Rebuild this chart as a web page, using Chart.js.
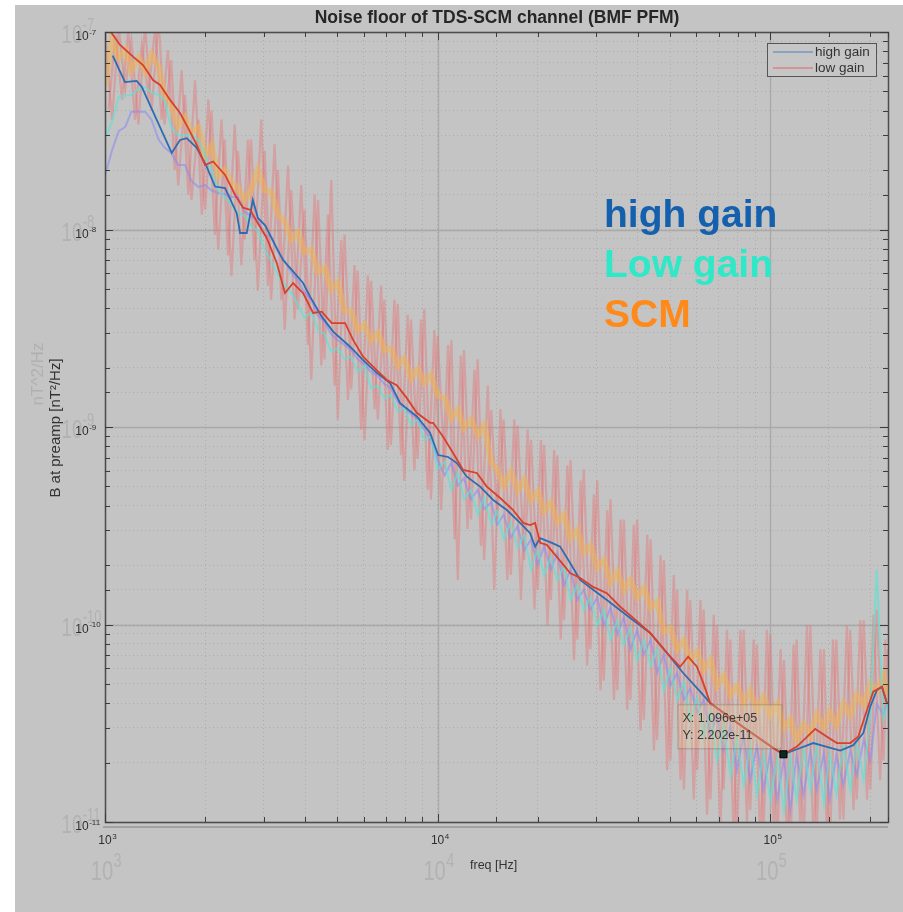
<!DOCTYPE html>
<html>
<head>
<meta charset="utf-8">
<title>Noise floor of TDS-SCM channel (BMF PFM)</title>
<script src="https://cdn.jsdelivr.net/npm/chart.js@4.4.1/dist/chart.umd.min.js"></script>
<style>
  html, body { margin: 0; padding: 0; background: #fff; }
  #plot { display: block; }
</style>
</head>
<body>
<canvas id="plot" width="903" height="912"></canvas>
<script>
// frequency grid shared by the raw spectra [Hz]
const noiseFreq = [1000,1050,1100,1150,1200,1260,1320,1380,1450,1510,1580,1660,1740,1820,1910,2000,2090,2190,2290,2400,
  2510,2630,2750,2880,3020,3160,3310,3470,3630,3800,3980,4170,4370,4570,4790,5010,5250,5500,5750,6030,
  6310,6610,6920,7240,7590,7940,8320,8710,9120,9550,10000,10500,11000,11500,12000,12600,13200,13800,14500,15100,
  15800,16600,17400,18200,19100,20000,20900,21900,22900,24000,25100,26300,27500,28800,30200,31600,33100,34700,36300,38000,
  39800,41700,43700,45700,47900,50100,52500,55000,57500,60300,63100,66100,69200,72400,75900,79400,83200,87100,91200,95500,
  100000,105000,110000,115000,120000,126000,132000,138000,145000,151000,158000,166000,174000,182000,191000,200000,209000,219000,225000];

// in-between bins of the SCM spectrum [Hz]
const spikeFreqB = [1025,1075,1125,1175,1230,1290,1350,1415,1480,1545,1620,1700,1780,1865,1955,2045,2140,2240,2345,2455,
  2570,2690,2815,2950,3090,3235,3390,3550,3715,3890,4075,4270,4470,4680,4900,5130,5375,5625,5890,6170,
  6460,6765,7080,7415,7765,8130,8515,8915,9335,9775,10250,10750,11250,11750,12300,12900,13500,14150,14800,15450,
  16200,17000,17800,18650,19550,20450,21400,22400,23450,24550,25700,26900,28150,29500,30900,32350,33900,35500,37150,38900,
  40750,42700,44700,46800,49000,51300,53750,56250,58900,61700,64600,67650,70800,74150,77650,81300,85150,89150,93350,97750,
  102500,107500,112500,117500,123000,129000,135000,141500,148000,154500,162000,170000,178000,186500,195500,204500,214000,222000];

// SCM spectrum (orange band)
const scmBand = [5.3e-8,9.3e-8,7.4e-8,8.1e-8,6.4e-8,7.4e-8,6.3e-8,7.7e-8,6.6e-8,4.8e-8,
  4.3e-8,3.35e-8,3.7e-8,3.1e-8,3.3e-8,2.37e-8,2.65e-8,1.87e-8,2.0e-8,1.74e-8,
  1.62e-8,1.41e-8,1.58e-8,2.0e-8,1.58e-8,1.55e-8,1.19e-8,1.1e-8,8.9e-9,9.7e-9,
  7.7e-9,7.9e-9,6.1e-9,6.4e-9,5.0e-9,5.4e-9,3.9e-9,3.85e-9,3.1e-9,3.3e-9,
  2.75e-9,3.0e-9,2.45e-9,2.5e-9,2.05e-9,2.22e-9,1.77e-9,1.95e-9,1.68e-9,1.83e-9,
  1.45e-9,1.4e-9,1.11e-9,1.22e-9,9.9e-10,1.09e-9,9.1e-10,1.02e-9,6.6e-10,6.1e-10,
  5.05e-10,5.9e-10,4.8e-10,5.4e-10,4.3e-10,4.7e-10,3.75e-10,4.15e-10,3.3e-10,3.6e-10,
  2.75e-10,3.0e-10,2.33e-10,2.5e-10,1.95e-10,2.12e-10,1.64e-10,1.85e-10,1.5e-10,1.68e-10,
  1.38e-10,1.53e-10,1.22e-10,1.3e-10,9.2e-11,9.6e-11,7.5e-11,8.3e-11,6.6e-11,7.3e-11,
  5.9e-11,6.6e-11,4.9e-11,5.5e-11,4.4e-11,4.9e-11,4.0e-11,4.6e-11,3.7e-11,4.3e-11,
  3.5e-11,3.95e-11,3.0e-11,3.3e-11,2.6e-11,3.1e-11,2.75e-11,3.5e-11,3.0e-11,3.6e-11,
  3.1e-11,3.95e-11,3.5e-11,4.4e-11,3.95e-11,5.0e-11,4.6e-11,5.5e-11,4.4e-11];

// SCM raw spikes (pink), on noiseFreq
const scmSpikes = [1.02e-7,3.6e-8,1.05e-7,5.1e-8,9.1e-8,3.4e-8,1.08e-7,4.0e-8,1.15e-7,3.4e-8,
  7.2e-8,1.67e-8,4.8e-8,1.41e-8,3.6e-8,1.26e-8,4.0e-8,7.9e-9,2.85e-8,5.8e-9,
  2.5e-8,8.9e-9,2.85e-8,4.9e-9,2.5e-8,4.4e-9,2.0e-8,3.1e-9,1.58e-8,3.95e-9,
  1.26e-8,1.73e-9,1.41e-8,2.2e-9,1.78e-8,1.09e-9,9.4e-9,1.55e-9,6.2e-9,8.6e-10,
  5.5e-9,1.09e-9,4.4e-9,8.1e-10,4.2e-9,5.35e-10,3.5e-9,6.9e-10,3.95e-9,4.3e-10,
  2.9e-9,6.1e-10,2.75e-9,1.68e-10,2.45e-9,3.4e-10,2.2e-9,2.12e-10,1.22e-9,3.4e-10,
  1.09e-9,1.78e-10,1.02e-9,2.12e-10,8.6e-10,1.5e-10,8.1e-10,1.33e-10,7.2e-10,1.05e-10,
  6.8e-10,8.4e-11,6.1e-10,7.5e-11,5.35e-10,5.2e-11,4.3e-10,4.65e-11,3.4e-10,4.15e-11,
  3.4e-10,3.3e-11,2.7e-10,2.6e-11,2.12e-10,2.05e-11,1.5e-10,1.46e-11,1.33e-10,1.83e-11,
  1.19e-10,1.3e-11,9.9e-11,1.46e-11,8.4e-11,8.5e-12,9.4e-11,1.15e-11,7.9e-11,9.1e-12,
  8.9e-11,8.1e-12,6.6e-11,7.2e-12,8.4e-11,7.7e-12,9.9e-11,9.1e-12,7.5e-11,7.2e-12,
  8.4e-11,1.03e-11,9.4e-11,1.3e-11,1.05e-10,1.46e-11,1.19e-10,2.05e-11,7.5e-11];

// SCM raw spikes (pink), on spikeFreqB
const scmSpikesB = [4.05e-8,9.7e-8,4.55e-8,1.02e-7,3.6e-8,8.6e-8,4.8e-8,1.05e-7,3.6e-8,8.1e-8,
  2.0e-8,6.4e-8,1.5e-8,5.7e-8,1.19e-8,4.55e-8,9.4e-9,3.6e-8,7.4e-9,3.4e-8,
  6.6e-9,2.85e-8,7.0e-9,3.6e-8,5.2e-9,2.7e-8,4.4e-9,2.1e-8,3.5e-9,1.68e-8,
  2.6e-9,1.5e-8,2.05e-9,1.19e-8,1.62e-9,8.85e-9,1.37e-9,6.6e-9,9.7e-10,5.85e-9,
  1.23e-9,5.2e-9,7.65e-10,4.4e-9,7.2e-10,3.7e-9,6.05e-10,3.5e-9,4.8e-10,3.1e-9,
  3.8e-10,2.6e-9,2.7e-10,2.3e-9,3.05e-10,1.95e-9,2.5e-10,1.62e-9,1.5e-10,1.23e-9,
  1.68e-10,1.09e-9,1.33e-10,9.7e-10,1.19e-10,8.6e-10,9.9e-11,7.65e-10,8.4e-11,6.4e-10,
  6.6e-11,5.35e-10,6.2e-11,4.55e-10,4.65e-11,3.8e-10,4.15e-11,3.4e-10,3.7e-11,3.2e-10,
  2.9e-11,2.85e-10,2.3e-11,2.24e-10,1.83e-11,1.78e-10,1.63e-11,1.5e-10,1.3e-11,1.33e-10,
  1.09e-11,1.12e-10,9.1e-12,9.4e-11,8.6e-12,9.4e-11,1.0e-11,8.4e-11,7.7e-12,9.4e-11,
  9.1e-12,7.5e-11,7.2e-12,7.9e-11,1.0e-11,9.9e-11,7.7e-12,7.5e-11,9.1e-12,8.4e-11,
  1.03e-11,9.9e-11,1.15e-11,1.05e-10,1.3e-11,1.12e-10,1.63e-11,8.4e-11];

// low gain raw spectrum (turquoise)
const lowGainNoise = [2.9e-8,3.5e-8,4.7e-8,4.75e-8,4.8e-8,5.15e-8,5.25e-8,4.95e-8,4.8e-8,4.5e-8,
  3.3e-8,3.0e-8,3.0e-8,3.0e-8,2.85e-8,2.37e-8,2.0e-8,1.58e-8,1.46e-8,1.33e-8,
  1.22e-8,1.17e-8,1.04e-8,9.8e-9,7.9e-9,6.9e-9,5.9e-9,5.2e-9,4.8e-9,4.15e-9,
  3.57e-9,3.8e-9,3.1e-9,2.95e-9,2.4e-9,2.5e-9,2.2e-9,2.28e-9,1.9e-9,2.05e-9,
  1.57e-9,1.62e-9,1.4e-9,1.45e-9,1.2e-9,1.25e-9,1.02e-9,1.09e-9,8.6e-10,9.0e-10,
  6.1e-10,6.7e-10,4.8e-10,5.9e-10,4.3e-10,4.8e-10,3.6e-10,4.4e-10,3.2e-10,3.75e-10,
  2.7e-10,3.3e-10,2.45e-10,2.85e-10,1.9e-10,2.4e-10,1.78e-10,2.2e-10,1.68e-10,1.98e-10,
  1.33e-10,1.58e-10,1.18e-10,1.37e-10,9.9e-11,1.19e-10,8.4e-11,1.05e-10,7.9e-11,9.6e-11,
  6.6e-11,8.4e-11,6.2e-11,7.5e-11,4.65e-11,6.0e-11,4.15e-11,5.1e-11,3.3e-11,4.3e-11,
  2.75e-11,3.6e-11,2.05e-11,3.1e-11,1.73e-11,2.65e-11,1.54e-11,2.45e-11,1.38e-11,2.25e-11,
  1.3e-11,2.1e-11,1.15e-11,2.17e-11,1.3e-11,2.37e-11,1.46e-11,2.45e-11,1.23e-11,2.25e-11,
  1.38e-11,2.45e-11,1.46e-11,2.52e-11,1.62e-11,3.5e-11,1.9e-10,3.3e-11,3.95e-11];

// high gain raw spectrum (violet)
const highGainNoise = [1.88e-8,2.52e-8,3.16e-8,3.3e-8,3.95e-8,3.95e-8,3.95e-8,3.6e-8,2.85e-8,2.6e-8,
  2.45e-8,2.12e-8,2.12e-8,1.76e-8,1.64e-8,1.68e-8,1.58e-8,1.53e-8,1.51e-8,1.46e-8,
  1.46e-8,1.23e-8,1.17e-8,1.12e-8,9.4e-9,9.2e-9,7.7e-9,6.9e-9,6.1e-9,5.5e-9,
  4.8e-9,4.4e-9,3.65e-9,3.4e-9,2.95e-9,2.75e-9,2.6e-9,2.45e-9,2.2e-9,2.07e-9,
  1.9e-9,1.81e-9,1.65e-9,1.57e-9,1.34e-9,1.25e-9,1.16e-9,1.09e-9,9.7e-10,8.6e-10,
  6.8e-10,5.7e-10,6.6e-10,5.05e-10,5.5e-10,4.3e-10,4.8e-10,3.85e-10,4.15e-10,3.2e-10,
  3.6e-10,2.75e-10,3.16e-10,2.37e-10,2.7e-10,2.0e-10,2.5e-10,1.9e-10,2.3e-10,1.58e-10,
  1.9e-10,1.33e-10,1.5e-10,1.19e-10,1.37e-10,9.9e-11,1.22e-10,8.9e-11,1.09e-10,7.5e-11,
  9.4e-11,7.05e-11,8.4e-11,5.7e-11,7.05e-11,4.9e-11,5.7e-11,4.15e-11,4.75e-11,3.6e-11,
  4.15e-11,2.75e-11,3.5e-11,2.3e-11,3.1e-11,1.83e-11,2.75e-11,1.63e-11,2.45e-11,1.46e-11,
  2.25e-11,1.3e-11,2.1e-11,1.15e-11,2.17e-11,1.38e-11,2.3e-11,1.46e-11,2.25e-11,1.3e-11,
  2.17e-11,1.54e-11,2.3e-11,1.73e-11,2.6e-11,2.05e-11,3.95e-11,3.5e-11,4.05e-11];

// first bin of the low gain spectrum runs the whole height
const lowGainEdgeFreq = [1000, 1000];
const lowGainEdge = [1.1e-7, 9e-12];

// smoothed curves (legend entries)
const highFreq = [1055,1148,1245,1290,1394,1587,1681,1761,1887,2022,2142,2296,2489,2547,2668,2782,2885,3030,3246,3430,
  3643,3940,4136,4485,4851,5455,5970,6563,7197,7713,8658,9494,10035,10755,11425,12240,13420,14690,16150,17700,
  18970,19640,20340,22060,23350,25030,26830,29360,32280,35390,38730,43560,48900,54740,61600,66000,81280,102100,109600,123100,
  134700,148100,162400,177700,190500,199900,209400,216700,224300];
const highGain = [7.6e-8,5.58e-8,5.65e-8,5.28e-8,3.95e-8,2.44e-8,2.84e-8,2.9e-8,2.59e-8,2.08e-8,1.65e-8,1.62e-8,1.21e-8,9.6e-9,9.6e-9,1.41e-8,1.14e-8,1.05e-8,8.35e-9,7.0e-9,
  6.24e-9,5.36e-9,4.57e-9,3.62e-9,3.04e-9,2.55e-9,2.18e-9,1.88e-9,1.67e-9,1.32e-9,1.13e-9,9.33e-10,7.21e-10,7.05e-10,6.57e-10,5.6e-10,4.99e-10,4.27e-10,3.8e-10,3.27e-10,
  2.9e-10,2.48e-10,2.74e-10,2.59e-10,2.48e-10,2.05e-10,1.68e-10,1.5e-10,1.33e-10,1.18e-10,1.05e-10,9.06e-11,7.18e-11,5.68e-11,4.57e-11,4.0e-11,3.1e-11,2.37e-11,2.202e-11,2.37e-11,
  2.51e-11,2.4e-11,2.3e-11,2.45e-11,2.82e-11,3.84e-11,4.66e-11,4.84e-11,4.0e-11];

const lowFreq = [1020,1110,1214,1301,1394,1464,1569,1681,1777,1887,1999,2113,2296,2460,2600,2729,2858,3064,3284,3477,
  3676,3940,4223,4485,4806,5271,5570,5970,6397,7035,7538,8080,8658,9494,9694,10390,11130,11930,13120,14060,
  15420,16870,18080,18970,19640,20340,21290,22830,25030,26830,29360,32280,35390,38730,43560,48900,53600,56660,60200,62880,
  66000,81280,102100,109600,120300,129000,136500,148100,158700,174000,183900,195400,204000,216700,224300];
const lowGain = [1.05e-7,8.6e-8,7.5e-8,6.8e-8,5.71e-8,5.39e-8,4.53e-8,3.89e-8,3.27e-8,2.68e-8,2.12e-8,2.21e-8,1.89e-8,1.5e-8,1.29e-8,1.26e-8,1.1e-8,9.06e-9,6.77e-9,4.77e-9,
  5.36e-9,4.77e-9,3.78e-9,3.84e-9,3.36e-9,3.36e-9,2.76e-9,2.27e-9,2.02e-9,1.73e-9,1.63e-9,1.4e-9,1.18e-9,1.05e-9,1.05e-9,8.93e-10,7.38e-10,6.06e-10,5.85e-10,4.99e-10,
  4.37e-10,3.8e-10,3.27e-10,3.19e-10,3.27e-10,2.59e-10,2.53e-10,2.2e-10,1.82e-10,1.72e-10,1.55e-10,1.44e-10,1.23e-10,1.08e-10,9.06e-11,7.18e-11,6.11e-11,6.87e-11,6.11e-11,5.06e-11,
  4.0e-11,3.1e-11,2.37e-11,2.202e-11,2.41e-11,2.7e-11,2.96e-11,2.7e-11,2.51e-11,2.51e-11,2.7e-11,3.69e-11,4.57e-11,4.84e-11,4.0e-11];

// data cursor
const tipFreq = [109600];
const tipVal = [2.202e-11];

// axes
const xTickValues = [1e3, 1e4, 1e5];
const xTickExp = ['3', '4', '5'];
const yTickValues = [1e-7, 1e-8, 1e-9, 1e-10, 1e-11];
const yTickExp = ['-7', '-8', '-9', '-10', '-11'];

const titleText = 'Noise floor of TDS-SCM channel (BMF PFM)';
const legendLabels = ['high gain', 'low gain'];
const noteLabels = ['high gain', 'Low gain', 'SCM'];
const noteColors = ['#1560ad', '#2ee8c8', '#ff8a1a'];

const FONT = '"Liberation Sans", Arial, Helvetica, sans-serif';
const pts = (xs, ys) => xs.map((x, i) => ({ x: x, y: ys[i] }));

function sciMatlab(v) {
  // 1.096e+05 style
  const [m, e] = v.toExponential(3).split('e');
  const n = parseInt(e, 10);
  return m + 'e' + (n < 0 ? '-' : '+') + String(Math.abs(n)).padStart(2, '0');
}

// "10" with a raised exponent, centred on (cx, cy); sx squeezes it horizontally
function drawPow(ctx, exp, cx, cy, size, color, sx) {
  sx = sx || 1;
  ctx.save();
  ctx.translate(cx, cy);
  ctx.scale(sx, 1);
  ctx.font = size + 'px ' + FONT;
  const w = ctx.measureText('10').width;
  ctx.fillStyle = color;
  ctx.textAlign = 'left';
  ctx.textBaseline = 'alphabetic';
  ctx.fillText('10', -w / 2, size * 0.36);
  ctx.font = Math.round(size * 0.7) + 'px ' + FONT;
  ctx.fillText(exp, w / 2 + 0.5, -size * 0.12);
  ctx.restore();
}

const paper = {
  id: 'paper',
  beforeDraw(chart) {
    const c = chart.ctx;
    c.save();
    c.fillStyle = '#ffffff';
    c.fillRect(0, 0, chart.width, chart.height);
    c.fillStyle = '#c4c4c4';
    c.fillRect(15, 5, chart.width - 15, chart.height - 5);
    c.restore();
  },
  beforeDatasetsDraw(chart) {
    const { ctx, chartArea: a, scales } = chart;
    ctx.save();
    ctx.strokeStyle = '#a9a9a9';
    ctx.lineWidth = 1.3;
    xTickValues.forEach(v => {
      const px = Math.round(scales.x.getPixelForValue(v)) + 0.5;
      ctx.beginPath(); ctx.moveTo(px, a.top); ctx.lineTo(px, a.bottom); ctx.stroke();
    });
    yTickValues.forEach(v => {
      const py = Math.round(scales.y.getPixelForValue(v)) + 0.5;
      ctx.beginPath(); ctx.moveTo(a.left, py); ctx.lineTo(a.right, py); ctx.stroke();
    });
    ctx.restore();
  },
  afterDatasetsDraw(chart) {
    // data cursor box
    const { ctx, scales } = chart;
    const mx = scales.x.getPixelForValue(tipFreq[0]);
    const my = scales.y.getPixelForValue(tipVal[0]);
    const bx = mx - 106, by = my - 50;
    ctx.save();
    ctx.fillStyle = 'rgba(226,208,160,0.3)';
    ctx.fillRect(bx, by, 104, 44);
    ctx.strokeStyle = 'rgba(110,100,80,0.4)';
    ctx.lineWidth = 1;
    ctx.strokeRect(bx + 0.5, by + 0.5, 104, 44);
    ctx.fillStyle = '#3a3a36';
    ctx.font = '12.5px ' + FONT;
    ctx.textBaseline = 'middle';
    ctx.textAlign = 'left';
    ctx.fillText('X: ' + sciMatlab(tipFreq[0]), bx + 5, by + 14);
    ctx.fillText('Y: ' + sciMatlab(tipVal[0]), bx + 5, by + 31);
    ctx.restore();
  },
  afterDraw(chart) {
    const { ctx, chartArea: a, scales } = chart;
    const xs = scales.x, ys = scales.y;
    ctx.save();

    // frame
    ctx.strokeStyle = '#4c4c4c';
    ctx.lineWidth = 1.5;
    ctx.strokeRect(a.left + 0.5, a.top + 0.5, a.right - a.left, a.bottom - a.top);
    ctx.strokeStyle = 'rgba(120,120,120,0.45)';
    ctx.lineWidth = 2;
    ctx.beginPath(); ctx.moveTo(a.left - 2, a.bottom + 5); ctx.lineTo(a.right, a.bottom + 5); ctx.stroke();

    // inward tick marks from the library's tick lists
    ctx.strokeStyle = '#3c3c3c';
    ctx.lineWidth = 1;
    xs.ticks.forEach(t => {
      const px = Math.round(xs.getPixelForValue(t.value)) + 0.5;
      const major = xTickValues.includes(t.value);
      const len = major ? 8 : 5;
      ctx.beginPath();
      ctx.moveTo(px, a.bottom); ctx.lineTo(px, a.bottom - len);
      ctx.moveTo(px, a.top); ctx.lineTo(px, a.top + len);
      ctx.stroke();
    });
    ys.ticks.forEach(t => {
      const py = Math.round(ys.getPixelForValue(t.value)) + 0.5;
      const major = yTickValues.some(v => Math.abs(v - t.value) < v * 1e-6);
      const len = major ? 8 : 5;
      ctx.beginPath();
      ctx.moveTo(a.left, py); ctx.lineTo(a.left + len, py);
      ctx.moveTo(a.right, py); ctx.lineTo(a.right - len, py);
      ctx.stroke();
    });

    // tick labels: faint large copy underneath, small dark copy
    xTickValues.forEach((v, i) => {
      const px = xs.getPixelForValue(v);
      drawPow(ctx, xTickExp[i], px - 3, 870, 28, '#b2b2b2', 0.72);
      drawPow(ctx, xTickExp[i], px, 840, 12, '#2e2e2e');
    });
    yTickValues.forEach((v, i) => {
      const py = ys.getPixelForValue(v);
      drawPow(ctx, yTickExp[i], 72, py + 2, 26, '#b2b2b2', 0.72);
      drawPow(ctx, yTickExp[i], 82, py + 4, 12, '#2e2e2e');
    });

    // title
    ctx.fillStyle = '#262626';
    ctx.font = 'bold 17.5px ' + FONT;
    ctx.textAlign = 'center';
    ctx.textBaseline = 'middle';
    ctx.fillText(titleText, 497, 18);

    // axis titles
    ctx.font = '12.5px ' + FONT;
    ctx.fillStyle = '#333';
    ctx.textAlign = 'left';
    ctx.fillText('freq [Hz]', 470, 866);

    ctx.save();
    ctx.translate(38, 374);
    ctx.rotate(-Math.PI / 2);
    ctx.textAlign = 'center';
    ctx.fillStyle = '#b0b0b0';
    ctx.font = '17px ' + FONT;
    ctx.fillText('nT^2/Hz', 0, 0);
    ctx.restore();

    ctx.save();
    ctx.translate(56, 428);
    ctx.rotate(-Math.PI / 2);
    ctx.textAlign = 'center';
    ctx.fillStyle = '#333';
    ctx.font = '15px ' + FONT;
    ctx.fillText('B at preamp [nT\u00b2/Hz]', 0, 0);
    ctx.restore();

    // legend box
    ctx.fillStyle = '#c6c6c6';
    ctx.fillRect(767, 43, 109, 33);
    ctx.strokeStyle = '#555';
    ctx.lineWidth = 1;
    ctx.strokeRect(767.5, 43.5, 109, 33);
    const legendColors = ['#4f80c0', '#e06464'];
    legendLabels.forEach((lab, i) => {
      const ly = 52 + i * 16;
      ctx.strokeStyle = legendColors[i];
      ctx.lineWidth = 1.2;
      ctx.beginPath(); ctx.moveTo(773, ly); ctx.lineTo(813, ly); ctx.stroke();
      ctx.fillStyle = '#333';
      ctx.font = '13.5px ' + FONT;
      ctx.textBaseline = 'middle';
      ctx.fillText(lab, 815, ly);
    });

    // coloured notes
    ctx.font = 'bold 39px ' + FONT;
    ctx.textBaseline = 'alphabetic';
    ctx.textAlign = 'left';
    noteLabels.forEach((lab, i) => {
      ctx.fillStyle = noteColors[i];
      ctx.fillText(lab, 604, 227 + i * 50);
    });

    ctx.restore();
  }
};

const logAxis = (min, max) => ({
  type: 'logarithmic',
  min: min,
  max: max,
  ticks: { display: false, autoSkip: false },
  grid: { color: '#adadad', lineWidth: 1, drawTicks: false },
  border: { display: false, dash: [1, 3] }
});

const xAxis = Object.assign(logAxis(1000, 226000), { position: 'bottom', afterFit: s => { s.height = 0; } });
const yAxis = Object.assign(logAxis(1e-11, 1e-7), { position: 'left', afterFit: s => { s.width = 0; } });

const pink = 'rgba(232,112,112,0.42)';

new Chart(document.getElementById('plot'), {
  type: 'line',
  data: {
    datasets: [
      { label: 'SCM raw', data: pts(noiseFreq, scmSpikes), borderColor: pink, borderWidth: 2.2, order: 7 },
      { label: 'SCM raw b', data: pts(spikeFreqB, scmSpikesB), borderColor: pink, borderWidth: 2.2, order: 6 },
      { label: 'SCM', data: pts(noiseFreq, scmBand), borderColor: 'rgba(240,178,84,0.55)', borderWidth: 6, order: 5 },
      { label: 'high gain raw', data: pts(noiseFreq, highGainNoise), borderColor: 'rgba(140,140,245,0.6)', borderWidth: 2, order: 4 },
      { label: 'low gain raw', data: pts(noiseFreq, lowGainNoise), borderColor: 'rgba(90,228,212,0.65)', borderWidth: 2, order: 3 },
      { label: 'low gain edge', data: pts(lowGainEdgeFreq, lowGainEdge), borderColor: 'rgba(80,190,185,0.9)', borderWidth: 2, order: 3 },
      { label: legendLabels[0], data: pts(highFreq, highGain), borderColor: '#2d6cb2', borderWidth: 1.8, order: 1 },
      { label: legendLabels[1], data: pts(lowFreq, lowGain), borderColor: '#d8402c', borderWidth: 1.8, order: 0 },
      { label: 'cursor', data: pts(tipFreq, tipVal), showLine: false, pointStyle: 'rect', pointRadius: 5,
        pointBackgroundColor: '#0b2a20', pointBorderColor: '#000', order: -1 }
    ]
  },
  options: {
    responsive: false,
    animation: false,
    events: [],
    layout: { padding: { left: 105, right: 15, top: 32, bottom: 90 } },
    elements: { point: { radius: 0 }, line: { tension: 0 } },
    plugins: { legend: { display: false }, tooltip: { enabled: false }, title: { display: false } },
    scales: { x: xAxis, y: yAxis }
  },
  plugins: [paper]
});
</script>
</body>
</html>
